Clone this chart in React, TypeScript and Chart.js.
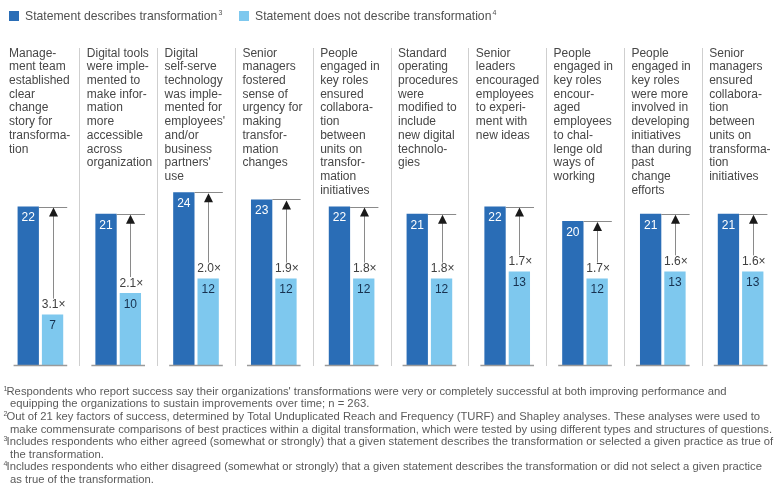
import { useEffect, useRef } from 'react';
import { Chart, registerables } from 'chart.js';

Chart.register(...registerables);

// statement labels, pre-wrapped as in the source
const categories: string[][] = [
  ['Manage-', 'ment team', 'established', 'clear', 'change', 'story for', 'transforma-', 'tion'],
  ['Digital tools', 'were imple-', 'mented to', 'make infor-', 'mation', 'more', 'accessible', 'across', 'organization'],
  ['Digital', 'self-serve', 'technology', 'was imple-', 'mented for', "employees'", 'and/or', 'business', "partners'", 'use'],
  ['Senior', 'managers', 'fostered', 'sense of', 'urgency for', 'making', 'transfor-', 'mation', 'changes'],
  ['People', 'engaged in', 'key roles', 'ensured', 'collabora-', 'tion', 'between', 'units on', 'transfor-', 'mation', 'initiatives'],
  ['Standard', 'operating', 'procedures', 'were', 'modified to', 'include', 'new digital', 'technolo-', 'gies'],
  ['Senior', 'leaders', 'encouraged', 'employees', 'to experi-', 'ment with', 'new ideas'],
  ['People', 'engaged in', 'key roles', 'encour-', 'aged', 'employees', 'to chal-', 'lenge old', 'ways of', 'working'],
  ['People', 'engaged in', 'key roles', 'were more', 'involved in', 'developing', 'initiatives', 'than during', 'past', 'change', 'efforts'],
  ['Senior', 'managers', 'ensured', 'collabora-', 'tion', 'between', 'units on', 'transforma-', 'tion', 'initiatives'],
];

const describes = [22, 21, 24, 23, 22, 21, 22, 20, 21, 21];
const doesNotDescribe = [7, 10, 12, 12, 12, 12, 13, 12, 13, 13];
const multiples = ['3.1×', '2.1×', '2.0×', '1.9×', '1.8×', '1.8×', '1.7×', '1.7×', '1.6×', '1.6×'];

const legendLabels = ['Statement describes transformation', 'Statement does not describe transformation'];
const legendNotes = ['3', '4'];

const footnotes: [string, string][] = [
  ['1', "Respondents who report success say their organizations' transformations were very or completely successful at both improving performance and"],
  ['', 'equipping the organizations to sustain improvements over time; n = 263.'],
  ['2', 'Out of 21 key factors of success, determined by Total Unduplicated Reach and Frequency (TURF) and Shapley analyses. These analyses were used to'],
  ['', 'make commensurate comparisons of best practices within a digital transformation, which were tested by using different types and structures of questions.'],
  ['3', 'Includes respondents who either agreed (somewhat or strongly) that a given statement describes the transformation or selected a given practice as true of'],
  ['', 'the transformation.'],
  ['4', 'Includes respondents who either disagreed (somewhat or strongly) that a given statement describes the transformation or did not select a given practice'],
  ['', 'as true of the transformation.'],
];

const DARK = '#2a6db6';
const LIGHT = '#7ec8ee';
const FONT = '"Liberation Sans", Arial, sans-serif';

const decorations = {
  id: 'decorations',
  afterDatasetsDraw(chart: Chart) {
    const { ctx, chartArea } = chart;
    const catW = (chartArea.right - chartArea.left) / categories.length;
    const base = chart.scales.y.getPixelForValue(0);
    const darkMeta = chart.getDatasetMeta(0);
    const lightMeta = chart.getDatasetMeta(1);
    ctx.save();

    // legend
    ctx.textBaseline = 'middle';
    let lx = 9;
    legendLabels.forEach((label, i) => {
      ctx.fillStyle = i === 0 ? DARK : LIGHT;
      ctx.fillRect(lx, 11, 10, 10);
      ctx.fillStyle = '#505050';
      ctx.font = `12.2px ${FONT}`;
      ctx.fillText(label, lx + 16, 16.5);
      const w = ctx.measureText(label).width;
      ctx.font = `7px ${FONT}`;
      ctx.fillText(legendNotes[i], lx + 17 + w, 13);
      lx = 239;
    });

    // separators
    ctx.strokeStyle = '#cfcfcf';
    ctx.lineWidth = 1;
    for (let k = 1; k < categories.length; k++) {
      const x = Math.round(chartArea.left + k * catW) + 0.5;
      ctx.beginPath();
      ctx.moveTo(x, 48);
      ctx.lineTo(x, base + 1);
      ctx.stroke();
    }

    // statement labels
    ctx.font = `12px ${FONT}`;
    ctx.fillStyle = '#474747';
    ctx.textAlign = 'left';
    categories.forEach((lines, i) => {
      const x = chartArea.left + i * catW + 7.5;
      lines.forEach((line, j) => ctx.fillText(line, x, 53.5 + j * 13.67));
    });

    categories.forEach((_, i) => {
      const d: any = darkMeta.data[i];
      const l: any = lightMeta.data[i];
      const dLeft = d.x - d.width / 2;
      const dRight = d.x + d.width / 2;
      const lRight = l.x + l.width / 2;

      // baseline
      ctx.strokeStyle = '#9a9a9a';
      ctx.lineWidth = 1.5;
      ctx.beginPath();
      ctx.moveTo(dLeft - 4, base + 0.5);
      ctx.lineTo(lRight + 4, base + 0.5);
      ctx.stroke();

      // reference line at top of dark bar
      ctx.strokeStyle = '#8a8a8a';
      ctx.lineWidth = 1;
      ctx.beginPath();
      ctx.moveTo(dRight, Math.round(d.y) + 0.5);
      ctx.lineTo(lRight + 4, Math.round(d.y) + 0.5);
      ctx.stroke();

      // arrow
      const ax = Math.round(l.x) + 0.5;
      ctx.strokeStyle = '#8a8a8a';
      ctx.beginPath();
      ctx.moveTo(ax, l.y - 16);
      ctx.lineTo(ax, d.y + 6);
      ctx.stroke();
      ctx.fillStyle = '#1a1a1a';
      ctx.beginPath();
      ctx.moveTo(ax, d.y + 1);
      ctx.lineTo(ax - 4.5, d.y + 10);
      ctx.lineTo(ax + 4.5, d.y + 10);
      ctx.closePath();
      ctx.fill();

      // labels
      ctx.textAlign = 'center';
      ctx.font = `12px ${FONT}`;
      ctx.fillStyle = '#404040';
      ctx.fillText(multiples[i], l.x + 1, l.y - 9.5);
      ctx.fillStyle = '#ffffff';
      ctx.fillText(String(describes[i]), d.x, d.y + 11.5);
      ctx.fillStyle = '#17314f';
      ctx.fillText(String(doesNotDescribe[i]), l.x, l.y + 11.5);
    });

    // footnotes
    ctx.textAlign = 'left';
    ctx.fillStyle = '#5a5a5a';
    footnotes.forEach(([mark, text], i) => {
      const y = 391.7 + i * 12.57;
      if (mark) {
        ctx.font = `7px ${FONT}`;
        ctx.fillText(mark, 3.5, y - 3);
      }
      ctx.font = `11.25px ${FONT}`;
      ctx.fillText(text, mark ? 6.5 : 10, y);
    });

    ctx.restore();
  },
};

export default function App() {
  const canvasRef = useRef<HTMLCanvasElement>(null);

  useEffect(() => {
    if (!canvasRef.current) return;
    const chart = new Chart(canvasRef.current, {
      type: 'bar',
      data: {
        labels: categories.map((c) => c.join(' ')),
        datasets: [
          {
            label: legendLabels[0],
            data: describes,
            backgroundColor: DARK,
            barPercentage: 0.877,
            categoryPercentage: 0.625,
          },
          {
            label: legendLabels[1],
            data: doesNotDescribe,
            backgroundColor: LIGHT,
            barPercentage: 0.877,
            categoryPercentage: 0.625,
          },
        ],
      },
      options: {
        responsive: false,
        animation: false,
        layout: { padding: { left: 1.5, right: 1.5, top: 149, bottom: 127 } },
        scales: {
          x: { display: false },
          y: { display: false, min: 0, max: 30 },
        },
        plugins: {
          legend: { display: false },
          tooltip: { enabled: false },
        },
      },
      plugins: [decorations],
    });
    return () => chart.destroy();
  }, []);

  return (
    <div style={{ position: 'absolute', left: 0, top: 0, width: 778, height: 492, overflow: 'hidden', background: '#fff' }}>
      <canvas ref={canvasRef} width={781} height={492} />
    </div>
  );
}
